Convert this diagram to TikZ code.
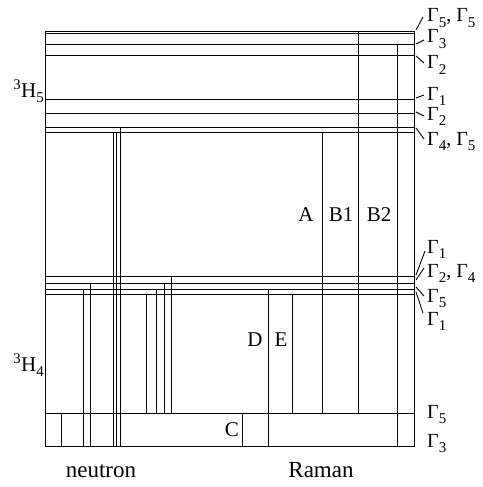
\documentclass[tikz,border=0pt]{standalone}
\usepackage{fontspec}
\setmainfont{Liberation Serif}
\usetikzlibrary{positioning}
\newcommand{\Gm}[1]{Γ\raisebox{-0.28em}{\fontsize{15}{15}\selectfont#1}}
\tikzset{
  lvl/.style={line width=0.9pt},
  gam/.style={anchor=base west,inner sep=0pt,font=\fontsize{20}{22}\selectfont},
  lab/.style={inner sep=0pt,font=\fontsize{21}{24}\selectfont},
}

\begin{document}
\begin{tikzpicture}[x=1pt,y=-1pt]
\useasboundingbox (0,0) rectangle (482,487);
% frame of the level scheme
\draw[lvl] (45,31) rectangle (414,446);
% 3H5 crystal-field levels
\foreach \y in {33.5,44,55.5,99,113,127.5,132}
  \draw[lvl] (45,\y) -- (414,\y);
% 3H4 crystal-field levels
\foreach \y in {276,283,289,294,413}
  \draw[lvl] (45,\y) -- (414,\y);
% neutron transitions
\foreach \x/\ya/\yb in {61/413/446,83/289/446,90/283/446,113.5/132/446,116.5/132/446,
    120/127.5/446,146/294/413,156/289/413,164/283/413,171/276/413}
  \draw[lvl] (\x,\ya) -- (\x,\yb);
% Raman transitions
\foreach \x/\ya/\yb in {322/132/413,358/31/413,397/44/446,268/289/446,292/294/413,242/413/446}
  \draw[lvl] (\x,\ya) -- (\x,\yb);
% transition labels
\node[lab] (A) at (306,215) {A};
\node[lab] (B1) at (341,215) {B1};
\node[lab] (B2) at (379,215) {B2};
\node[lab] (D) at (255,340) {D};
\node[lab] (E) at (281,340) {E};
\node[lab] (C) at (232,430) {C};
% multiplet names
\node[lab,anchor=base east] (H5) at (44,97) {\textsuperscript{3}H\raisebox{-0.28em}{\fontsize{15}{15}\selectfont 5}};
\node[lab,anchor=base east] (H4) at (44,371) {\textsuperscript{3}H\raisebox{-0.28em}{\fontsize{15}{15}\selectfont 4}};
% irreps with leaders
\foreach \n/\yl/\yb/\dx/\dy/\t in {g1/30/22/-4/-5/{\Gm{5}, \Gm{5}},g2/44/43/-3/-3/{\Gm{3}},
    g3/56/69/-3/-6/{\Gm{2}},g4/98/100/-3/-5/{\Gm{1}},g5/112/120/-3/-4/{\Gm{2}},
    g6/128/145/-3/-6/{\Gm{4}, \Gm{5}},g7/275/253/-2/-2/{\Gm{1}},g8/280/277/-3/-9/{\Gm{2}, \Gm{4}},
    g9/287/302/-3/-6/{\Gm{5}},g10/292/325/-4/-12/{\Gm{1}}}{
  \node[gam] (\n) at (427,\yb) {\t};
  \draw[lvl] (416,\yl) -- ([shift={(\dx,\dy)}]\n.base west);
}
\node[gam] (g11) at (427,418) {\Gm{5}};
\node[gam] (g12) at (427,447) {\Gm{3}};
% method names
\node[lab,anchor=base,font=\fontsize{23}{26}\selectfont] (neu) at (101,477) {neutron};
\node[lab,anchor=base,font=\fontsize{23}{26}\selectfont] (ram) at (321,477) {Raman};
\end{tikzpicture}
\end{document}
